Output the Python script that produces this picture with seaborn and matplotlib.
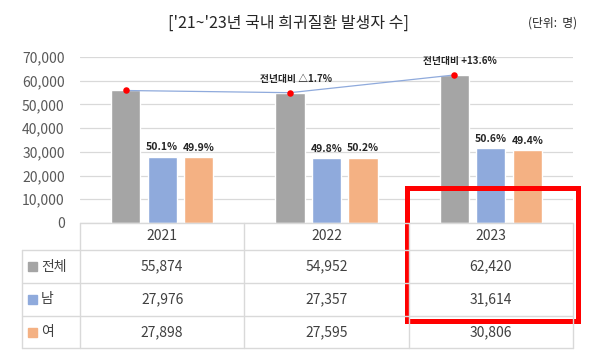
import numpy as np
import pandas as pd
import matplotlib.pyplot as plt
from matplotlib.lines import Line2D
from matplotlib.patches import Rectangle
from matplotlib import transforms
import seaborn as sns

# data
years = ['2021', '2022', '2023']
groups = ['전체', '남', '여']
total = [55874, 54952, 62420]
male = [27976, 27357, 31614]
female = [27898, 27595, 30806]
change_labels = ['', '전년대비 △1.7%', '전년대비 +13.6%']
yticks = list(range(0, 70001, 10000))
colors = ['#a5a5a5', '#8faadc', '#f4b183']

sns.set_style('white')
plt.rcParams['font.family'] = ['Noto Sans CJK KR', 'DejaVu Sans']

df = pd.DataFrame({
    'year': years * 3,
    'group': np.repeat(groups, len(years)),
    'count': total + male + female,
})

W, H = 600, 358
fig = plt.figure(figsize=(W / 100, H / 100), dpi=100)
ax = fig.add_axes([80 / W, 1 - 223 / H, 493 / W, 166 / H])

sns.barplot(data=df, x='year', y='count', hue='group', hue_order=groups,
            palette=colors, width=0.666, gap=0.2, saturation=1,
            legend=False, ax=ax)
ax.set_xlim(-0.5, 2.5)
ax.set_ylim(0, 70000)
ax.set_yticks(yticks)
ax.set_yticklabels([f'{v:,}' for v in yticks])
ax.tick_params(axis='y', length=0, labelsize=10, labelcolor='#595959', pad=11)
ax.set_xticks([])
ax.set_xlabel('')
ax.set_ylabel('')
ax.grid(axis='y', color='#d9d9d9', linewidth=0.9)
ax.set_axisbelow(True)
for s in ax.spines.values():
    s.set_visible(False)

# line through the totals
bars = ax.containers[0]
xs = [b.get_x() + b.get_width() / 2 for b in bars]
ax.plot(xs, total, color='#8faadc', lw=0.9, zorder=3)
ax.scatter(xs, total, color='#ff0000', s=22, zorder=4, linewidths=0)
for x, y, lab in zip(xs, total, change_labels):
    if lab:
        ax.annotate(lab, (x, y), xytext=(4, 10), textcoords='offset points',
                    ha='center', va='center', fontsize=7, fontweight='bold',
                    color='#262626')

# share labels
for cont, vals in zip(ax.containers[1:], [male, female]):
    labs = [f'{v / t * 100:.1f}%' for v, t in zip(vals, total)]
    ax.bar_label(cont, labels=labs, padding=3, fontsize=7.5,
                 fontweight='bold', color='#262626')

# titles
fig.text(288 / W, 1 - 23 / H, "['21~'23년 국내 희귀질환 발생자 수]",
         ha='center', va='center', fontsize=11.5, color='#262626')
fig.text(553 / W, 1 - 23 / H, '(단위:  명)', ha='center', va='center',
         fontsize=8.5, color='#262626')

# data table under the chart
grid_c = '#d9d9d9'
txt_c = '#404040'
blend = transforms.blended_transform_factory(ax.transData, fig.transFigure)
rows = [223, 250, 283, 316, 348]
fy = lambda p: 1 - p / H

fig.add_artist(Line2D([80 / W, 573 / W], [fy(rows[0])] * 2,
                      transform=fig.transFigure, color=grid_c, lw=1))
for r in rows[1:]:
    fig.add_artist(Line2D([22 / W, 573 / W], [fy(r)] * 2,
                          transform=fig.transFigure, color=grid_c, lw=1))
fig.add_artist(Line2D([22 / W, 22 / W], [fy(rows[1]), fy(rows[-1])],
                      transform=fig.transFigure, color=grid_c, lw=1))
for xe in [-0.5, 0.5, 1.5, 2.5]:
    fig.add_artist(Line2D([xe, xe], [fy(rows[0]), fy(rows[-1])],
                          transform=blend, color=grid_c, lw=1))

centers = [(a + b) / 2 for a, b in zip(rows[:-1], rows[1:])]
for i, y in enumerate(years):
    fig.text(i, fy(centers[0]), y, transform=blend, ha='center', va='center',
             fontsize=10, color=txt_c)
for r, (g, vals, c) in enumerate(zip(groups, [total, male, female], colors)):
    yc = fy(centers[r + 1])
    fig.add_artist(Rectangle((28 / W, yc - 4.5 / H), 9 / W, 9 / H,
                             transform=fig.transFigure, color=c))
    fig.text(41 / W, yc, g, ha='left', va='center', fontsize=10, color=txt_c)
    for i, v in enumerate(vals):
        fig.text(i, yc, f'{v:,}', transform=blend, ha='center', va='center',
                 fontsize=10, color=txt_c)

# highlight box around 2023
fig.add_artist(Rectangle((406.5 / W, fy(320.5)), 171 / W, 133 / H,
                         transform=fig.transFigure, fill=False,
                         edgecolor='#ff0000', lw=3.6))

fig.savefig('out.png', dpi=100)
